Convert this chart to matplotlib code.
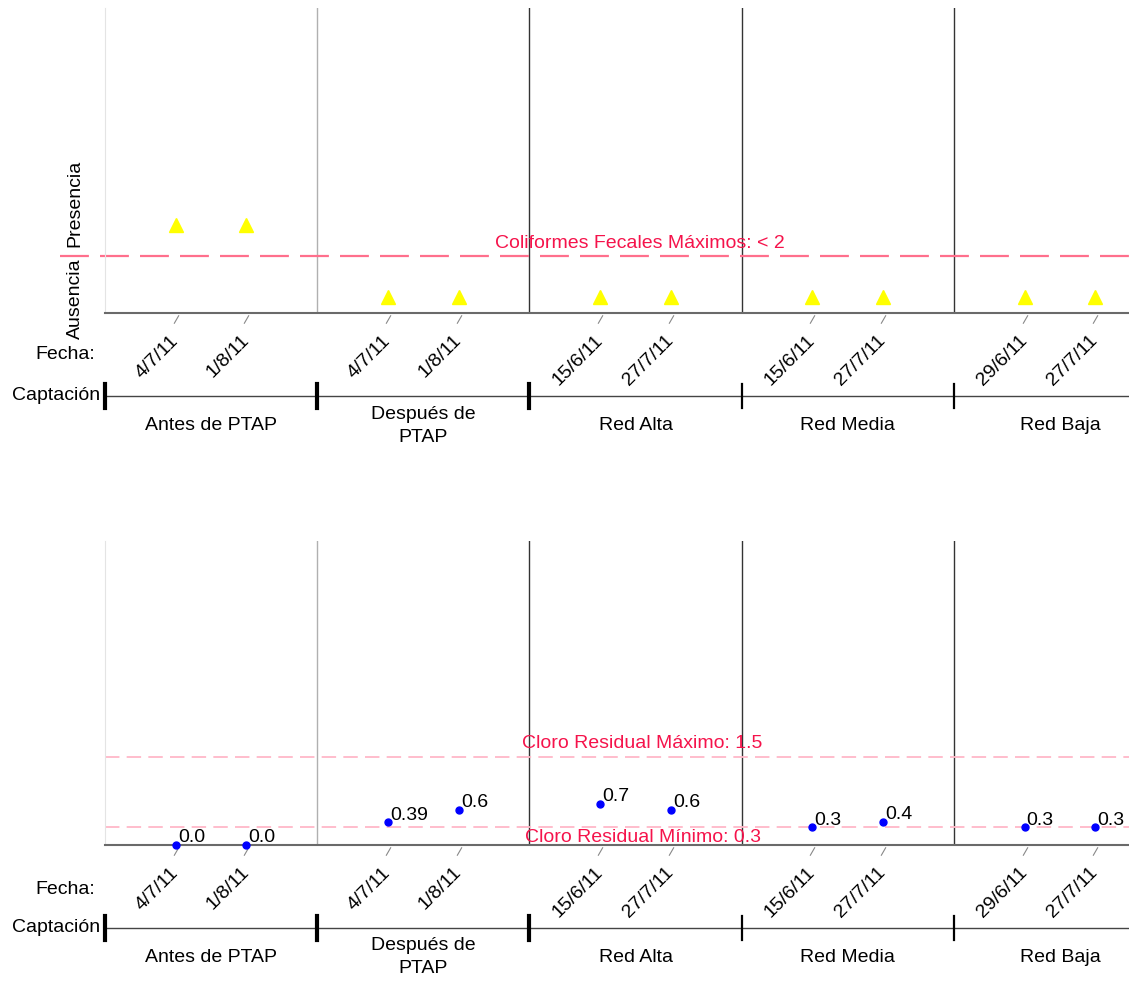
import numpy as np
import matplotlib.pyplot as plt
from matplotlib.transforms import blended_transform_factory

plt.rcParams['font.family'] = ['Liberation Sans', 'DejaVu Sans']

# datos
fechas = ['4/7/11', '1/8/11', '4/7/11', '1/8/11', '15/6/11', '27/7/11',
          '15/6/11', '27/7/11', '29/6/11', '27/7/11']
grupos = ['Antes de PTAP', 'Después de\nPTAP', 'Red Alta', 'Red Media', 'Red Baja']
coliformes = [1, 1, 0, 0, 0, 0, 0, 0, 0, 0]   # 1 = Presencia, 0 = Ausencia
cloro = [0.0, 0.0, 0.39, 0.6, 0.7, 0.6, 0.3, 0.4, 0.3, 0.3]
cloro_txt = ['0.0', '0.0', '0.39', '0.6', '0.7', '0.6', '0.3', '0.4', '0.3', '0.3']
coli_max = 0.57
cloro_max = 1.5
cloro_min = 0.3

xpos = [1, 2, 4, 5, 7, 8, 10, 11, 13, 14]
seps = [3, 6, 9, 12]
FS = 14
RED = '#f5134b'

fig = plt.figure(figsize=(11.29, 9.98), dpi=100)
W, H = 1129, 998
x0, x1 = 105, 1166


def make_ax(top_px, bot_px):
    h_px = bot_px - top_px
    ax = fig.add_axes([x0 / W, 1 - bot_px / H, (x1 - x0) / W, h_px / H])
    ax.set_xlim(0, 15)
    for s in ['top', 'right']:
        ax.spines[s].set_visible(False)
    ax.spines['left'].set_color('#e4e4e4')
    ax.spines['bottom'].set_color('#6a6a6a')
    ax.spines['bottom'].set_linewidth(1.5)
    ax.set_yticks([])
    ax.set_xticks(xpos)
    ax.set_xticklabels(fechas, rotation=45, ha='right', va='center',
                       rotation_mode='anchor', fontsize=FS)
    # las marcas de fecha son pequeños trazos inclinados
    ax.tick_params(axis='x', length=0, pad=18)
    tr = blended_transform_factory(ax.transData, ax.transAxes)
    ax.plot(xpos, [-6 / h_px] * len(xpos), transform=tr, linestyle='none',
            marker=(2, 0, -30), ms=7, mew=0.8, mec='#888888', clip_on=False)
    for i, s in enumerate(seps):
        ax.axvline(s, color='#b0b0b0' if i == 0 else '#333333', lw=1.0, zorder=1)
    return ax


def brackets(ax, h_px, fecha_off, line_off, name_off):
    tr = blended_transform_factory(ax.transData, ax.transAxes)
    yl = -line_off / h_px
    ax.text(-0.14, -fecha_off / h_px, 'Fecha:', transform=tr, ha='right',
            va='center', fontsize=FS)
    ax.text(-0.07, yl, 'Captación', transform=tr, ha='right', va='center',
            fontsize=FS)
    ax.plot([0, 15.5], [yl, yl], transform=tr, color='#444444', lw=1,
            clip_on=False)
    for i, b in enumerate([0] + seps):
        ax.plot([b, b], [yl + 12 / h_px, yl - 12 / h_px], transform=tr,
                color='black', lw=3 if i < 3 else 1.6, clip_on=False)
    for i, g in enumerate(grupos):
        ax.text(i * 3 + 1.5, -name_off / h_px, g, transform=tr, ha='center',
                va='center', fontsize=FS, linespacing=1.4)


# Coliformes fecales
ax1 = make_ax(8, 313)
ax1.set_ylim(-0.22, 4.02)
ax1.plot(xpos, coliformes, linestyle='none', marker='^', ms=10,
         color='#ffff00', clip_on=False, zorder=3)
ax1.plot([-0.64, 15.5], [coli_max, coli_max], color='#ff6f8c', lw=1.6,
         dashes=(13, 5), clip_on=False, zorder=2)
ax1.text(7.56, coli_max + 0.06, 'Coliformes Fecales Máximos: < 2',
         color=RED, ha='center', va='bottom', fontsize=FS)
tr1 = blended_transform_factory(fig.transFigure, ax1.transAxes)
ax1.text(75 / W, (313 - 203) / 305, 'Presencia', transform=tr1, rotation=90,
         ha='center', va='center', fontsize=FS)
ax1.text(75 / W, (313 - 299) / 305, 'Ausencia', transform=tr1, rotation=90,
         ha='center', va='center', fontsize=FS)
brackets(ax1, 305, 42, 83, 113)

# Cloro residual
ax2 = make_ax(541, 845)
ax2.set_ylim(0, 5.18)
ax2.plot(xpos, cloro, linestyle='none', marker='o', ms=5, color='#0000ff',
         clip_on=False, zorder=3)
for x, v, t in zip(xpos, cloro, cloro_txt):
    ax2.annotate(t, (x, v), xytext=(1.5, -1), textcoords='offset points',
                 ha='left', va='bottom', fontsize=FS, annotation_clip=False)
for yv in [cloro_max, cloro_min]:
    ax2.axhline(yv, color='#ffb8c8', lw=1.3, dashes=(8, 4), zorder=2)
ax2.text(7.6, cloro_max + 0.08, 'Cloro Residual Máximo: 1.5', color=RED,
         ha='center', va='bottom', fontsize=FS)
ax2.text(7.6, cloro_min - 0.03, 'Cloro Residual Mínimo: 0.3', color=RED,
         ha='center', va='top', fontsize=FS)
brackets(ax2, 304, 45, 83, 112)

fig.savefig('out.png', dpi=100)
